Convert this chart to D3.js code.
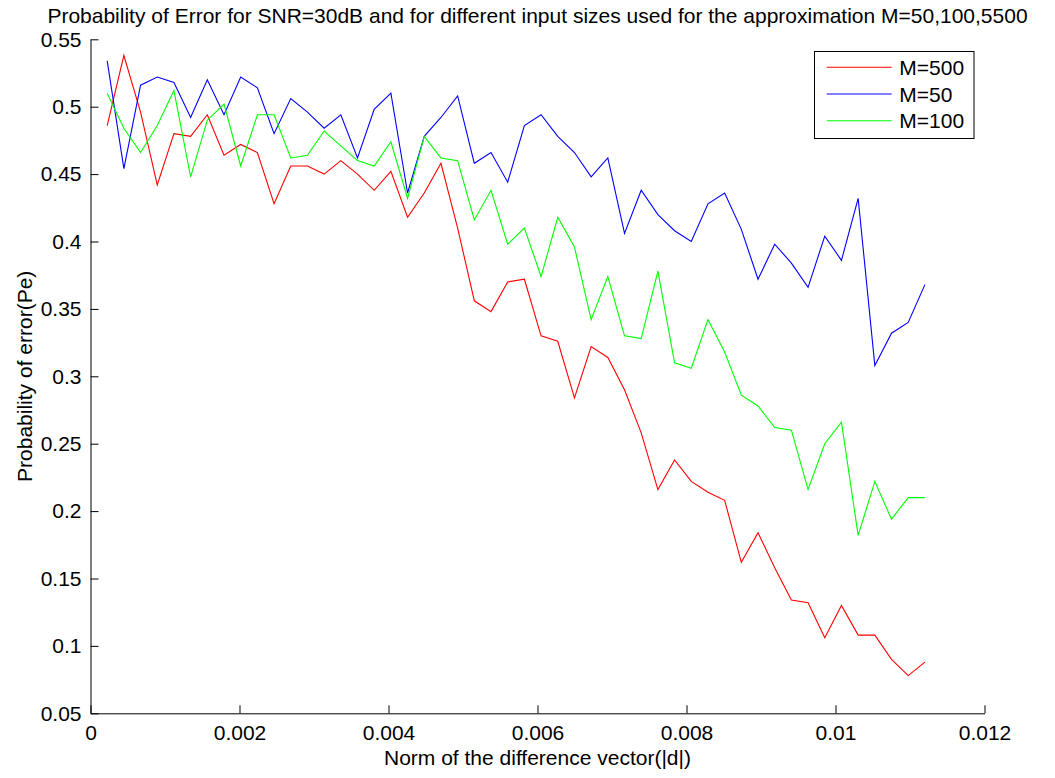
<!DOCTYPE html>
<html>
<head>
<meta charset="utf-8">
<script src="https://cdn.jsdelivr.net/npm/d3@7"></script>
<style>
  body { margin: 0; background: #fff; }
  text { font-family: "Liberation Sans", Arial, Helvetica, sans-serif; }
</style>
</head>
<body>
<div id="chart"></div>
<script>
// norm of the difference vector |d|
var norm_d = [
    0.000224, 0.000448, 0.000672, 0.000896, 0.00112, 0.001344, 0.001568, 0.001792, 0.002016, 0.00224,
    0.002464, 0.002688, 0.002912, 0.003136, 0.00336, 0.003584, 0.003808, 0.004032, 0.004256, 0.00448,
    0.004704, 0.004928, 0.005152, 0.005376, 0.0056, 0.005824, 0.006048, 0.006272, 0.006496, 0.00672,
    0.006944, 0.007168, 0.007392, 0.007616, 0.00784, 0.008064, 0.008288, 0.008512, 0.008736, 0.00896,
    0.009184, 0.009408, 0.009632, 0.009856, 0.01008, 0.010304, 0.010528, 0.010752, 0.010976, 0.0112
];

var pe_m500 = [
    0.486, 0.538, 0.496, 0.442, 0.480, 0.478, 0.494, 0.464, 0.472, 0.466,
    0.428, 0.456, 0.456, 0.450, 0.460, 0.450, 0.438, 0.452, 0.418, 0.436,
    0.458, 0.410, 0.356, 0.348, 0.370, 0.372, 0.330, 0.326, 0.284, 0.322,
    0.314, 0.290, 0.258, 0.216, 0.238, 0.222, 0.214, 0.208, 0.162, 0.184,
    0.158, 0.134, 0.132, 0.106, 0.130, 0.108, 0.108, 0.090, 0.078, 0.088
];

var pe_m50 = [
    0.534, 0.454, 0.516, 0.522, 0.518, 0.492, 0.520, 0.494, 0.522, 0.514,
    0.480, 0.506, 0.496, 0.484, 0.494, 0.462, 0.498, 0.510, 0.436, 0.478,
    0.492, 0.508, 0.458, 0.466, 0.444, 0.486, 0.494, 0.478, 0.466, 0.448,
    0.462, 0.406, 0.438, 0.420, 0.408, 0.400, 0.428, 0.436, 0.409, 0.372,
    0.398, 0.384, 0.366, 0.404, 0.386, 0.432, 0.308, 0.332, 0.340, 0.368
];

var pe_m100 = [
    0.510, 0.484, 0.466, 0.486, 0.512, 0.448, 0.490, 0.502, 0.456, 0.494,
    0.494, 0.462, 0.464, 0.482, 0.471, 0.460, 0.456, 0.474, 0.432, 0.478,
    0.462, 0.460, 0.416, 0.438, 0.398, 0.410, 0.374, 0.418, 0.396, 0.342,
    0.374, 0.330, 0.328, 0.378, 0.310, 0.306, 0.342, 0.318, 0.286, 0.278,
    0.262, 0.260, 0.216, 0.250, 0.266, 0.182, 0.222, 0.194, 0.210, 0.210
];

var series_names = ["M=500", "M=50", "M=100"];
var series_colors = ["#ff0000", "#0000ff", "#00ff00"];

var x_ticks = [0, 0.002, 0.004, 0.006, 0.008, 0.010, 0.012];
var x_tick_labels = ["0", "0.002", "0.004", "0.006", "0.008", "0.01", "0.012"];
var y_ticks = [0.05, 0.10, 0.15, 0.20, 0.25, 0.30, 0.35, 0.40, 0.45, 0.50, 0.55];
var y_tick_labels = ["0.05", "0.1", "0.15", "0.2", "0.25", "0.3", "0.35", "0.4", "0.45", "0.5", "0.55"];

var chart_width = 1055;
var chart_height = 778;
var font_size = 21;

var svg = d3.select("#chart")
    .append("svg")
    .attr("width", chart_width)
    .attr("height", chart_height)
    .style("display", "block");

svg.append("rect")
    .attr("width", chart_width)
    .attr("height", chart_height)
    .attr("fill", "#fff");

// scales
var x_scale = d3.scaleLinear()
    .domain([0, 0.012])
    .range([90.5, 984.5]);

var y_scale = d3.scaleLinear()
    .domain([0.05, 0.55])
    .range([713.3, 39.3]);

// axes, ticks pointing inward like matlab
var x_axis = d3.axisBottom(x_scale)
    .tickValues(x_ticks)
    .tickFormat(function(d, i) { return x_tick_labels[i]; })
    .tickSizeInner(-8)
    .tickSizeOuter(0)
    .tickPadding(12);

var y_axis = d3.axisLeft(y_scale)
    .tickValues(y_ticks)
    .tickFormat(function(d, i) { return y_tick_labels[i]; })
    .tickSizeInner(-8)
    .tickSizeOuter(0)
    .tickPadding(9);

var gx = svg.append("g")
    .attr("class", "x-axis")
    .attr("transform", "translate(0," + y_scale(0.05) + ")")
    .call(x_axis);

var gy = svg.append("g")
    .attr("class", "y-axis")
    .attr("transform", "translate(" + x_scale(0) + ",0)")
    .call(y_axis);

[gx, gy].forEach(function(g) {
    g.select(".domain").attr("stroke", "#000");
    g.selectAll(".tick line").attr("stroke", "#000");
    g.selectAll(".tick text")
        .attr("fill", "#000")
        .attr("font-size", font_size)
        .style("font-family", "'Liberation Sans', Arial, sans-serif");
});

// lines
var all_series = [pe_m500, pe_m50, pe_m100];

var line = d3.line()
    .x(function(d, i) { return x_scale(norm_d[i]); })
    .y(function(d) { return y_scale(d); });

svg.append("g").selectAll("path")
    .data(all_series)
    .enter()
    .append("path")
    .attr("d", line)
    .attr("fill", "none")
    .attr("stroke", function(d, i) { return series_colors[i]; })
    .attr("stroke-width", 1.1);

// title + axis labels
svg.append("text")
    .attr("x", 537.5)
    .attr("y", 23.3)
    .attr("text-anchor", "middle")
    .attr("font-size", font_size)
    .text("Probability of Error for SNR=30dB and for different input sizes used for the approximation M=50,100,5500");

svg.append("text")
    .attr("x", 537.5)
    .attr("y", 765)
    .attr("text-anchor", "middle")
    .attr("font-size", font_size)
    .text("Norm of the difference vector(|d|)");

svg.append("text")
    .attr("transform", "translate(31.7,376.3) rotate(-90)")
    .attr("text-anchor", "middle")
    .attr("font-size", font_size)
    .text("Probability of error(Pe)");

// legend
var legend = svg.append("g");

legend.append("rect")
    .attr("x", 814.5)
    .attr("y", 51.5)
    .attr("width", 159.5)
    .attr("height", 87)
    .attr("fill", "#fff")
    .attr("stroke", "#000");

var rows = legend.selectAll("g.row")
    .data(series_names)
    .enter()
    .append("g")
    .attr("class", "row")
    .attr("transform", function(d, i) { return "translate(0," + (67.3 + i * 26.7) + ")"; });

rows.append("line")
    .attr("x1", 826.7)
    .attr("x2", 891.7)
    .attr("stroke", function(d, i) { return series_colors[i]; })
    .attr("stroke-width", 1.1);

rows.append("text")
    .attr("x", 899.3)
    .attr("y", 7.5)
    .attr("font-size", font_size)
    .text(function(d) { return d; });
</script>
</body>
</html>
